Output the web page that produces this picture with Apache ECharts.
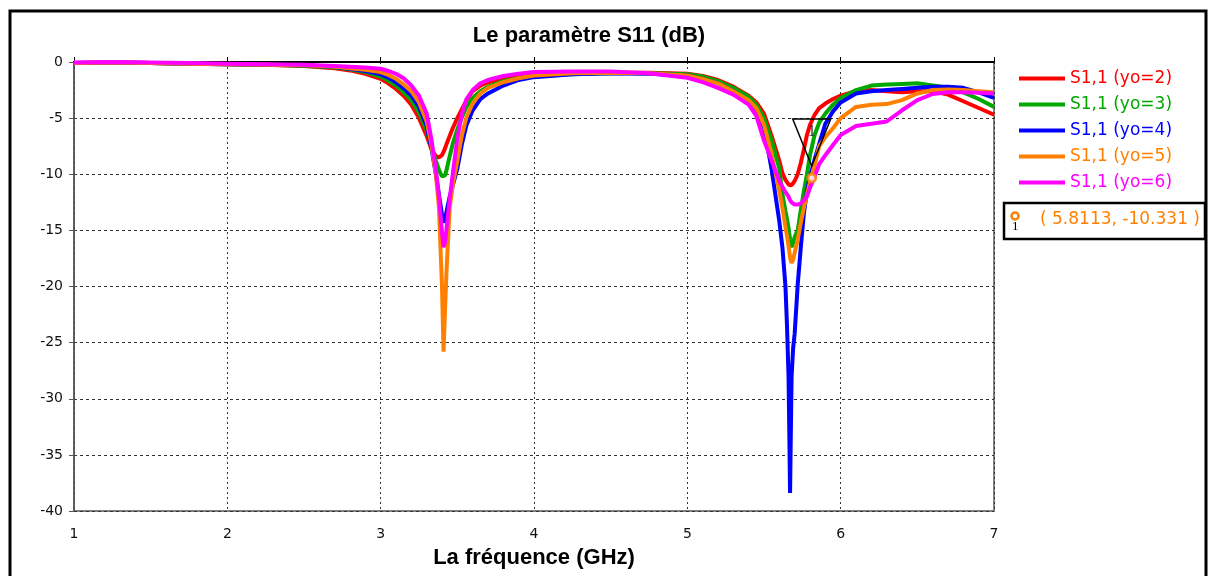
<!DOCTYPE html>
<html>
<head>
<meta charset="utf-8">
<title>Le paramètre S11 (dB)</title>
<script src="https://cdn.jsdelivr.net/npm/echarts@6/dist/echarts.min.js"></script>
<style>
  html, body { margin: 0; padding: 0; background: #fff; }
  #main { width: 1208px; height: 576px; }
</style>
</head>
<body>
<div id="main"></div>
<script>
// fréquences (GHz), grille plus fine autour des deux résonances
const freq = [1.0, 1.25, 1.5, 1.75, 2.0, 2.25, 2.5, 2.7, 2.8, 2.9,
  3.0, 3.05, 3.1, 3.15, 3.2, 3.25, 3.3, 3.33, 3.36, 3.38,
  3.4, 3.41, 3.42, 3.43, 3.45, 3.47, 3.5, 3.53, 3.56, 3.6,
  3.65, 3.7, 3.8, 3.9, 4.0, 4.25, 4.5, 4.75, 5.0, 5.1,
  5.2, 5.3, 5.4, 5.45, 5.5, 5.55, 5.6, 5.62, 5.64, 5.65,
  5.66, 5.665, 5.67, 5.675, 5.68, 5.69, 5.7, 5.72, 5.74, 5.76,
  5.78, 5.8, 5.83, 5.86, 5.9, 5.95, 6.0, 6.1, 6.2, 6.3,
  6.4, 6.5, 6.6, 6.7, 6.8, 6.9, 7.0]

// S11 (dB) pour yo = 2
const s11yo2 = [-0.1, -0.05, -0.1, -0.15, -0.2, -0.25, -0.35, -0.55, -0.75, -1.05,
  -1.5, -1.9, -2.4, -3.0, -3.8, -5.0, -6.6, -7.7, -8.4, -8.5,
  -8.3, -8.0, -7.7, -7.3, -6.6, -5.9, -5.0, -4.2, -3.4, -2.6,
  -2.1, -1.8, -1.45, -1.25, -1.15, -1.0, -0.95, -0.95, -1.05, -1.25,
  -1.6, -2.2, -3.0, -3.6, -4.6, -6.6, -8.8, -9.9, -10.5, -10.7,
  -10.9, -11.0, -11.0, -11.0, -11.0, -10.8, -10.6, -10.0, -9.0, -7.8,
  -6.5, -5.6, -4.7, -4.1, -3.7, -3.3, -3.0, -2.6, -2.5, -2.6,
  -2.7, -2.6, -2.6, -2.9, -3.5, -4.1, -4.7]

// yo = 3
const s11yo3 = [-0.1, -0.05, -0.1, -0.15, -0.2, -0.25, -0.33, -0.5, -0.65, -0.9,
  -1.3, -1.65, -2.1, -2.7, -3.4, -4.5, -6.1, -7.5, -8.8, -9.6,
  -10.2, -10.3, -10.1, -9.6, -8.4, -7.3, -6.0, -4.9, -4.0, -3.2,
  -2.6, -2.2, -1.7, -1.45, -1.3, -1.1, -1.0, -1.0, -1.1, -1.3,
  -1.7, -2.3, -3.1, -3.8, -5.0, -7.0, -9.5, -11.8, -13.3, -14.0,
  -14.8, -15.3, -15.8, -16.2, -16.5, -16.1, -15.6, -15.0, -13.2, -11.5,
  -10.0, -8.3, -6.5, -5.4, -4.6, -3.8, -3.2, -2.5, -2.1, -2.0,
  -1.95, -1.9, -2.1, -2.3, -2.7, -3.3, -4.0]

// yo = 4
const s11yo4 = [-0.1, -0.05, -0.1, -0.15, -0.2, -0.25, -0.3, -0.45, -0.6, -0.8,
  -1.1, -1.4, -1.8, -2.35, -3.0, -4.0, -5.7, -7.6, -10.0, -11.8,
  -13.6, -14.3, -14.0, -13.3, -12.0, -11.0, -9.5, -7.3, -5.6, -4.3,
  -3.3, -2.8, -2.1, -1.6, -1.35, -1.1, -1.0, -1.05, -1.2, -1.5,
  -1.9, -2.6, -3.5, -4.3, -5.8, -9.6, -14.2, -16.5, -20.0, -23.5,
  -28.0, -33.0, -38.4, -33.0, -28.0, -25.5, -24.2, -19.8, -16.5, -13.5,
  -11.5, -10.2, -8.7, -7.3, -5.5, -4.4, -3.6, -2.8, -2.6, -2.5,
  -2.4, -2.3, -2.2, -2.2, -2.3, -2.7, -3.2]

// yo = 5
const s11yo5 = [-0.1, -0.05, -0.1, -0.15, -0.2, -0.25, -0.3, -0.42, -0.55, -0.7,
  -0.9, -1.15, -1.5, -2.0, -2.6, -3.6, -5.3, -7.3, -10.0, -13.0,
  -20.0, -25.8, -22.0, -18.5, -13.0, -11.0, -8.8, -6.5, -4.9, -3.7,
  -2.8, -2.3, -1.8, -1.45, -1.2, -1.0, -0.95, -1.0, -1.2, -1.5,
  -1.9, -2.6, -3.4, -4.1, -5.6, -8.2, -11.5, -13.0, -14.7, -15.5,
  -16.4, -16.9, -17.4, -17.7, -17.9, -17.6, -17.0, -15.8, -14.3, -13.0,
  -11.8, -10.7, -9.2, -7.5, -6.7, -5.9, -5.0, -4.0, -3.8, -3.75,
  -3.4, -2.8, -2.5, -2.45, -2.5, -2.6, -2.7]

// yo = 6
const s11yo6 = [-0.05, 0.0, -0.05, -0.1, -0.15, -0.2, -0.25, -0.35, -0.42, -0.5,
  -0.6, -0.8, -1.05, -1.45, -2.1, -3.0, -4.6, -6.8, -9.6, -12.0,
  -15.2, -16.5, -16.0, -14.8, -12.2, -10.0, -6.8, -4.6, -3.3, -2.5,
  -1.9, -1.6, -1.25, -1.05, -0.9, -0.85, -0.85, -1.0, -1.4, -1.8,
  -2.3, -2.9, -3.8, -4.8, -7.0, -8.8, -10.6, -11.1, -11.6, -11.8,
  -12.0, -12.1, -12.3, -12.4, -12.5, -12.6, -12.7, -12.7, -12.6, -12.3,
  -12.0, -11.2, -10.2, -9.1, -8.3, -7.4, -6.5, -5.7, -5.5, -5.3,
  -4.3, -3.4, -2.85, -2.7, -2.7, -2.75, -2.8]

const seriesNames = ['S1,1 (yo=2)', 'S1,1 (yo=3)', 'S1,1 (yo=4)', 'S1,1 (yo=5)', 'S1,1 (yo=6)']
const seriesColors = ['#ff0000', '#00a800', '#0000ff', '#ff8000', '#ff00ff']
const seriesValues = [s11yo2, s11yo3, s11yo4, s11yo5, s11yo6]

// marqueur 1 sur la courbe yo=5
const markerF = 5.8113
const markerDb = -10.331

const xTicks = [1, 2, 3, 4, 5, 6, 7]

let myChart = echarts.init(document.getElementById('main'))

let series = seriesNames.map((name, k) => ({
  name: name,
  type: 'line',
  data: freq.map((f, i) => [f, seriesValues[k][i]]),
  showSymbol: false,
  symbol: 'none',
  smooth: false,
  lineStyle: { width: 4, color: seriesColors[k] },
  itemStyle: { color: seriesColors[k] },
  z: 2 + k,
}))

// petit cercle orange sur la courbe
series.push({
  name: 'marker-dot',
  type: 'scatter',
  data: [[markerF, markerDb]],
  symbol: 'circle',
  symbolSize: 8,
  itemStyle: { color: '#fff', borderColor: '#ff8000', borderWidth: 3 },
  silent: true,
  z: 21,
})

let option = {
  backgroundColor: '#fff',
  animation: false,
  title: {
    text: 'Le paramètre S11 (dB)',
    left: 584,
    top: 20,
    textAlign: 'center',
    textStyle: { fontFamily: 'Liberation Sans', fontWeight: 'bold', fontSize: 22, color: '#000' },
  },
  legend: {
    orient: 'vertical',
    left: 1014,
    top: 65,
    icon: 'rect',
    itemWidth: 46,
    itemHeight: 4,
    itemGap: 9,
    selectedMode: false,
    textStyle: { fontFamily: 'DejaVu Sans', fontSize: 17 },
    data: seriesNames.map((n, k) => ({ name: n, textStyle: { color: seriesColors[k] } })),
  },
  grid: {
    left: 74,
    right: 214,
    top: 62,
    bottom: 65,
    show: true,
    borderColor: '#808080',
    borderWidth: 2,
  },
  xAxis: {
    type: 'value',
    min: 1,
    max: 7,
    interval: 1,
    name: 'La fréquence (GHz)',
    nameLocation: 'middle',
    nameGap: 36,
    nameTextStyle: { fontFamily: 'Liberation Sans', fontWeight: 'bold', fontSize: 22, color: '#000' },
    axisLine: { lineStyle: { color: '#000', width: 2 } },
    axisTick: { inside: true, length: 5, lineStyle: { color: '#000' } },
    axisLabel: {
      margin: 16,
      fontFamily: 'DejaVu Sans',
      fontSize: 14,
      color: '#111',
      formatter: (v) => (xTicks.indexOf(v) >= 0 ? String(v) : ''),
    },
    splitLine: { show: true, lineStyle: { color: '#333', type: [2, 3], width: 1 } },
  },
  yAxis: {
    type: 'value',
    min: -40,
    max: 0,
    interval: 5,
    axisLine: { show: true, lineStyle: { color: '#555', width: 1.5 } },
    axisTick: { show: true, length: 5, lineStyle: { color: '#555' } },
    axisLabel: { margin: 11, fontFamily: 'DejaVu Sans', fontSize: 14, color: '#111' },
    splitLine: { show: true, lineStyle: { color: '#333', type: [3, 3], width: 1 } },
  },
  series: series,
}

myChart.setOption(option)

// triangle "1" placé au-dessus du marqueur, à partir de sa position sur les axes
let p = myChart.convertToPixel({ gridIndex: 0 }, [markerF, markerDb])
let tip = [p[0], p[1] - 12]

myChart.setOption({
  graphic: [
    // cadre noir de la fenêtre
    {
      type: 'rect',
      shape: { x: 10, y: 11, width: 1196, height: 620 },
      style: { fill: 'none', stroke: '#000', lineWidth: 3 },
      silent: true,
    },
    {
      type: 'polygon',
      shape: { points: [[tip[0] - 19, tip[1] - 47], [tip[0] + 19, tip[1] - 47], tip] },
      style: { fill: 'none', stroke: '#000', lineWidth: 1.5 },
      z: 100,
      silent: true,
    },
    {
      type: 'text',
      x: tip[0],
      y: tip[1] - 34,
      style: {
        text: '1',
        fill: '#333',
        font: '16px "Liberation Serif"',
        align: 'center',
        verticalAlign: 'middle',
      },
      z: 100,
      silent: true,
    },
    // boîte du marqueur
    {
      type: 'rect',
      shape: { x: 1004, y: 203, width: 201, height: 36 },
      style: { fill: '#fff', stroke: '#000', lineWidth: 2.5 },
      silent: true,
    },
    {
      type: 'circle',
      shape: { cx: 1015, cy: 216, r: 3.5 },
      style: { fill: '#fff', stroke: '#ff8000', lineWidth: 2.5 },
      silent: true,
    },
    {
      type: 'text',
      left: 1012,
      top: 220,
      style: { text: '1', fill: '#000', font: '13px "Liberation Serif"' },
      silent: true,
    },
    {
      type: 'text',
      left: 1040,
      top: 211,
      style: {
        text: '( ' + markerF.toFixed(4) + ', ' + markerDb.toFixed(3) + ' )',
        fill: '#ff8000',
        font: '17px "DejaVu Sans"',
      },
      silent: true,
    },
  ],
})
</script>
</body>
</html>
